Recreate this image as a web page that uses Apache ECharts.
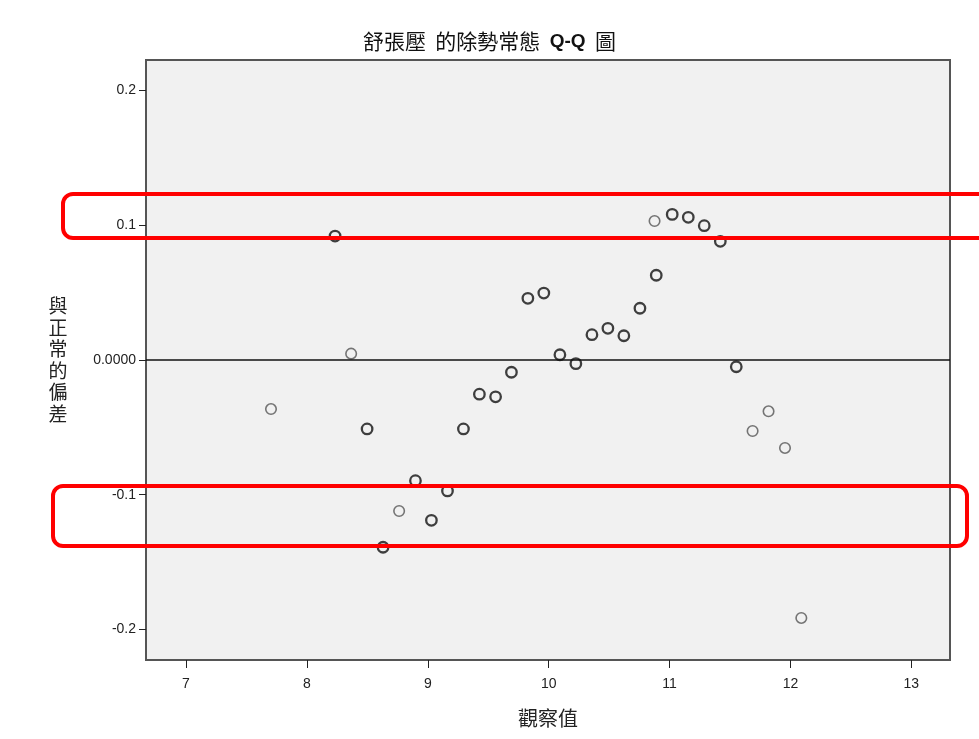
<!DOCTYPE html>
<html>
<head>
<meta charset="utf-8">
<script src="https://cdn.jsdelivr.net/npm/echarts@6/dist/echarts.min.js"></script>
<style>
html,body{margin:0;padding:0;background:#fff;}
#chart{width:979px;height:739px;}
</style>
</head>
<body>
<div id="chart"></div>
<script>
// ---- data ----
var singleX = [7.703, 8.366, 8.763, 10.876, 11.687, 11.819, 11.955, 12.090];
var singleY = [-0.0364, 0.0047, -0.1121, 0.1032, -0.0527, -0.0381, -0.0653, -0.1915];
var multiX = [8.233, 8.498, 8.630, 8.898, 9.030, 9.163, 9.295, 9.427, 9.561, 9.692, 9.828, 9.960,
              10.093, 10.225, 10.358, 10.490, 10.622, 10.755, 10.890, 11.022, 11.155, 11.287, 11.420, 11.552];
var multiY = [0.0920, -0.0512, -0.1390, -0.0896, -0.1190, -0.0972, -0.0512, -0.0254, -0.0273, -0.0091, 0.0458, 0.0497,
              0.0039, -0.0027, 0.0188, 0.0235, 0.0180, 0.0384, 0.0629, 0.1081, 0.1059, 0.0997, 0.0881, -0.0050];
var xTickValues = [7, 8, 9, 10, 11, 12, 13];
var yTickValues = [-0.2, -0.1, 0, 0.1, 0.2];
var yTickLabels = ['-0.2', '-0.1', '0.0000', '0.1', '0.2'];
var titleText = '舒張壓  的除勢常態  {b|Q-Q}  圖';
var xName = '觀察值';
var yName = '與正常的偏差';

function zip(xs, ys){ return xs.map(function(v,i){ return [v, ys[i]]; }); }

var chart = echarts.init(document.getElementById('chart'), null, {renderer:'canvas'});
var cjk = '"Noto Sans CJK TC", "Noto Sans CJK SC", sans-serif';
var latin = '"Liberation Sans", Arial, sans-serif';
var option = {
  backgroundColor: '#ffffff',
  animation: false,
  title: {
    text: titleText,
    left: 'center',
    top: 26,
    textStyle: {
      fontFamily: cjk, fontSize: 21, fontWeight: 'normal', color: '#111',
      rich: { b: { fontFamily: latin, fontWeight: 'bold', fontSize: 19, color: '#111' } }
    }
  },
  grid: {
    left: 146, right: 29, top: 60, bottom: 79,
    show: true, backgroundColor: '#f1f1f1', borderColor: '#555', borderWidth: 2
  },
  xAxis: {
    type: 'value', min: 6.669, max: 13.32,
    name: xName, nameLocation: 'middle', nameGap: 58,
    nameTextStyle: { fontFamily: cjk, fontSize: 20, color: '#222', verticalAlign: 'middle' },
    axisLine: { show: true, onZero: false, lineStyle: { color: '#555', width: 2 } },
    axisTick: { show: true, customValues: xTickValues, length: 8, lineStyle: { color: '#222', width: 1 } },
    axisLabel: { customValues: xTickValues, color: '#222', fontSize: 14, margin: 17, fontFamily: latin },
    splitLine: { show: false }
  },
  yAxis: {
    type: 'value', min: -0.2227, max: 0.2227,
    name: yName.split('').join('\n'), nameLocation: 'middle', nameRotate: 0, nameGap: 88,
    nameTextStyle: { fontFamily: cjk, fontSize: 19, lineHeight: 21.5, color: '#222', align: 'center', verticalAlign: 'middle' },
    axisLine: { show: true, onZero: false, lineStyle: { color: '#555', width: 2 } },
    axisTick: { show: true, customValues: yTickValues, length: 7, lineStyle: { color: '#222', width: 1 } },
    axisLabel: {
      customValues: yTickValues, color: '#222', fontSize: 14, margin: 10, fontFamily: latin,
      formatter: function(v){
        for (var i = 0; i < yTickValues.length; i++) {
          if (Math.abs(yTickValues[i] - v) < 1e-9) return yTickLabels[i];
        }
        return '';
      }
    },
    splitLine: { show: false }
  },
  series: [
    {
      name: 'multi', type: 'scatter', symbol: 'circle', symbolSize: 10.5,
      data: zip(multiX, multiY),
      itemStyle: { color: 'rgba(0,0,0,0)', borderColor: '#111', borderWidth: 2.3 },
      markLine: {
        silent: true, symbol: 'none', label: { show: false },
        lineStyle: { color: '#111', width: 1.5, type: 'solid' },
        data: [{ yAxis: 0 }]
      },
      z: 3
    },
    {
      name: 'single', type: 'scatter', symbol: 'circle', symbolSize: 10.5,
      data: zip(singleX, singleY),
      itemStyle: { color: 'rgba(0,0,0,0)', borderColor: '#555', borderWidth: 1.6 },
      z: 3
    }
  ],
  graphic: [
    { type: 'rect', z: 100, shape: { x: 63, y: 194, width: 960, height: 44, r: 10 },
      style: { fill: 'none', stroke: '#ff0000', lineWidth: 4 } },
    { type: 'rect', z: 100, shape: { x: 53, y: 486, width: 914, height: 60, r: 10 },
      style: { fill: 'none', stroke: '#ff0000', lineWidth: 4 } }
  ]
};
chart.setOption(option);
</script>
</body>
</html>
